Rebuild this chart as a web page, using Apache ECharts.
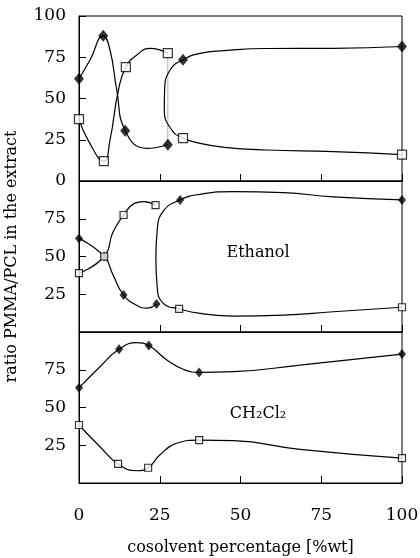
<!DOCTYPE html>
<html lang="en">
<head>
<meta charset="UTF-8">
<title>ratio PMMA/PCL in the extract</title>
<script src="https://cdn.jsdelivr.net/npm/echarts@6/dist/echarts.min.js"></script>
<style>html,body{margin:0;padding:0;background:#fff;}</style>
</head>
<body>
<div id="main" style="width:420px;height:558px;"></div>
<script>
// measured points [cosolvent %wt, ratio]
// top panel
var topPMMA = [[0,62],[7.5,88],[14.3,30.5],[27.5,22],[32.2,73.5],[100,81.5]];
var topPCL  = [[0,37.5],[7.7,12],[14.5,69],[27.5,77.5],[32.2,26],[100,16]];
// hand drawn curves
var topCurvePMMA = [[0,62],[3.4,73.3],[7.5,88],[9.6,79.4],[11.7,55],[14.3,30.5],[21,19.8],[27.5,22]];
var topCurvePCL  = [[0,37.5],[3,24],[7.7,12],[9.6,24.8],[12.2,55],[14.5,69],[17.9,76.4],[22,80.4],[27.5,77.5]];
var topCurveRight = [[100,81.5],[78.7,80.4],[58,80.3],[45,79],[37.5,77.4],[32.2,73.5],[28.2,67.3],[26.5,55],[26.4,43],[28.7,31],[32.2,26],[37.5,22.8],[45,20.4],[58,18.8],[78.7,17.8],[100,16]];
var topJoin = [[27.5,22],[27.5,77.5]];

// ethanol
var ethPMMA = [[0,62],[7.8,50],[13.8,24.5],[24,18.5],[31.3,87.5],[100,87.5]];
var ethPCL  = [[0,39],[7.8,50],[13.8,77.5],[23.7,84],[31,15.3],[100,16.4]];
var ethCurvePMMA = [[0,62],[7.8,50],[10.5,38],[13.8,24.5],[18,17.5],[21,15.8],[24,18.5]];
var ethCurvePCL  = [[0,39],[7.8,50],[10.5,66],[13.8,77.5],[17,85],[20,86.4],[23.7,84]];
var ethCurveRight = [[100,87.5],[78.7,89.5],[63.3,92.3],[47.8,93],[37.5,91.2],[31.3,87.5],[26.1,80],[24.2,67],[23.8,49.5],[24.2,30],[26.1,19],[31,15.3],[37.5,12.3],[47.8,10.5],[63.3,11.2],[78.7,13.4],[100,16.4]];

// CH2Cl2
var dcmPMMA = [[0,63],[12.4,88.5],[21.6,91],[37.2,73.2],[100,85.4]];
var dcmPCL  = [[0,38.4],[12.1,12.6],[21.4,10.1],[37.2,28.4],[100,16.5]];
var dcmCurvePMMA = [[0,63],[6.5,77],[12.4,88.5],[17.9,92.9],[21.6,91],[27.2,81.5],[32.3,75.3],[37.2,73.2],[47.8,73.7],[68.4,78.1],[100,85.4]];
var dcmCurvePCL  = [[0,38.4],[6.5,24],[12.1,12.6],[17.9,8.1],[21.4,10.1],[25,18.5],[30.2,26.3],[37.2,28.4],[47.8,28],[68.4,22.3],[100,16.5]];

var panelNames = ["", "Ethanol", "CH\u2082Cl\u2082"];

var serif = "DejaVu Serif";
var myChart = echarts.init(document.getElementById("main"));

function gridOf(top, h){
    return {left:79, right:18, top:top, height:h, show:true, borderColor:"#000", borderWidth:1,
        backgroundColor:"transparent", containLabel:false, outerBoundsMode:"none"};
}
function xAx(i, labels){
    return {
        type:"value", gridIndex:i, min:0, max:100, interval:25,
        axisLine:{lineStyle:{color:"#000", width:1}},
        axisTick:{inside:true, length:7, lineStyle:{color:"#000"}},
        splitLine:{show:false},
        axisLabel:{show:labels, color:"#000", fontFamily:serif, fontSize:17, margin:24},
        name: labels ? "cosolvent percentage [%wt]" : "",
        nameLocation:"middle", nameGap:57,
        nameTextStyle:{color:"#000", fontFamily:serif, fontSize:16}
    };
}
function yAx(i, ends, name){
    return {
        type:"value", gridIndex:i, min:0, max:100, interval:25,
        axisLine:{lineStyle:{color:"#000", width:1}},
        axisTick:{inside:true, length:7, lineStyle:{color:"#000"}},
        splitLine:{show:false},
        axisLabel:{color:"#000", fontFamily:serif, fontSize:17, margin:13, showMinLabel:ends, showMaxLabel:ends},
        name:name || "", nameLocation:"middle", nameGap:59,
        nameTextStyle:{color:"#000", fontFamily:serif, fontSize:16}
    };
}
function curve(i, data){
    return {type:"line", xAxisIndex:i, yAxisIndex:i, data:data, smooth:0.5, symbol:"none", silent:true,
        lineStyle:{color:"#000", width:1.2}, z:2};
}
function diamonds(i, data, s){
    return {type:"scatter", xAxisIndex:i, yAxisIndex:i, data:data, symbol:"diamond", symbolSize:[s, s+2],
        itemStyle:{color:"#000"}, z:3};
}
function squares(i, data, s){
    return {type:"scatter", xAxisIndex:i, yAxisIndex:i, data:data, symbol:"rect", symbolSize:s,
        itemStyle:{color:"#fff", borderColor:"#000", borderWidth:1.2}, z:4};
}

var option = {
    animation:false,
    grid:[gridOf(16,165), gridOf(181,151), gridOf(332,151)],
    xAxis:[xAx(0,false), xAx(1,false), xAx(2,true)],
    yAxis:[yAx(0,true), yAx(1,false,"ratio PMMA/PCL in the extract"), yAx(2,false)],
    series:[
        curve(0, topCurvePMMA), curve(0, topCurvePCL), curve(0, topCurveRight),
        {type:"line", xAxisIndex:0, yAxisIndex:0, data:topJoin, symbol:"none", silent:true,
            lineStyle:{color:"#666", width:1, type:"dotted"}, z:1},
        diamonds(0, topPMMA, 10), squares(0, topPCL, 9),

        curve(1, ethCurvePMMA), curve(1, ethCurvePCL), curve(1, ethCurveRight),
        diamonds(1, ethPMMA, 8), squares(1, ethPCL, 7),

        curve(2, dcmCurvePMMA), curve(2, dcmCurvePCL),
        diamonds(2, dcmPMMA, 8), squares(2, dcmPCL, 7)
    ],
    graphic:[
        {type:"text", x:258, y:253, style:{text:panelNames[1], fill:"#000", font:"16px 'DejaVu Serif'", textAlign:"center", textVerticalAlign:"middle"}},
        {type:"text", x:258, y:414, style:{text:panelNames[2], fill:"#000", font:"16px 'DejaVu Serif'", textAlign:"center", textVerticalAlign:"middle"}}
    ]
};

myChart.setOption(option);
</script>
</body>
</html>
